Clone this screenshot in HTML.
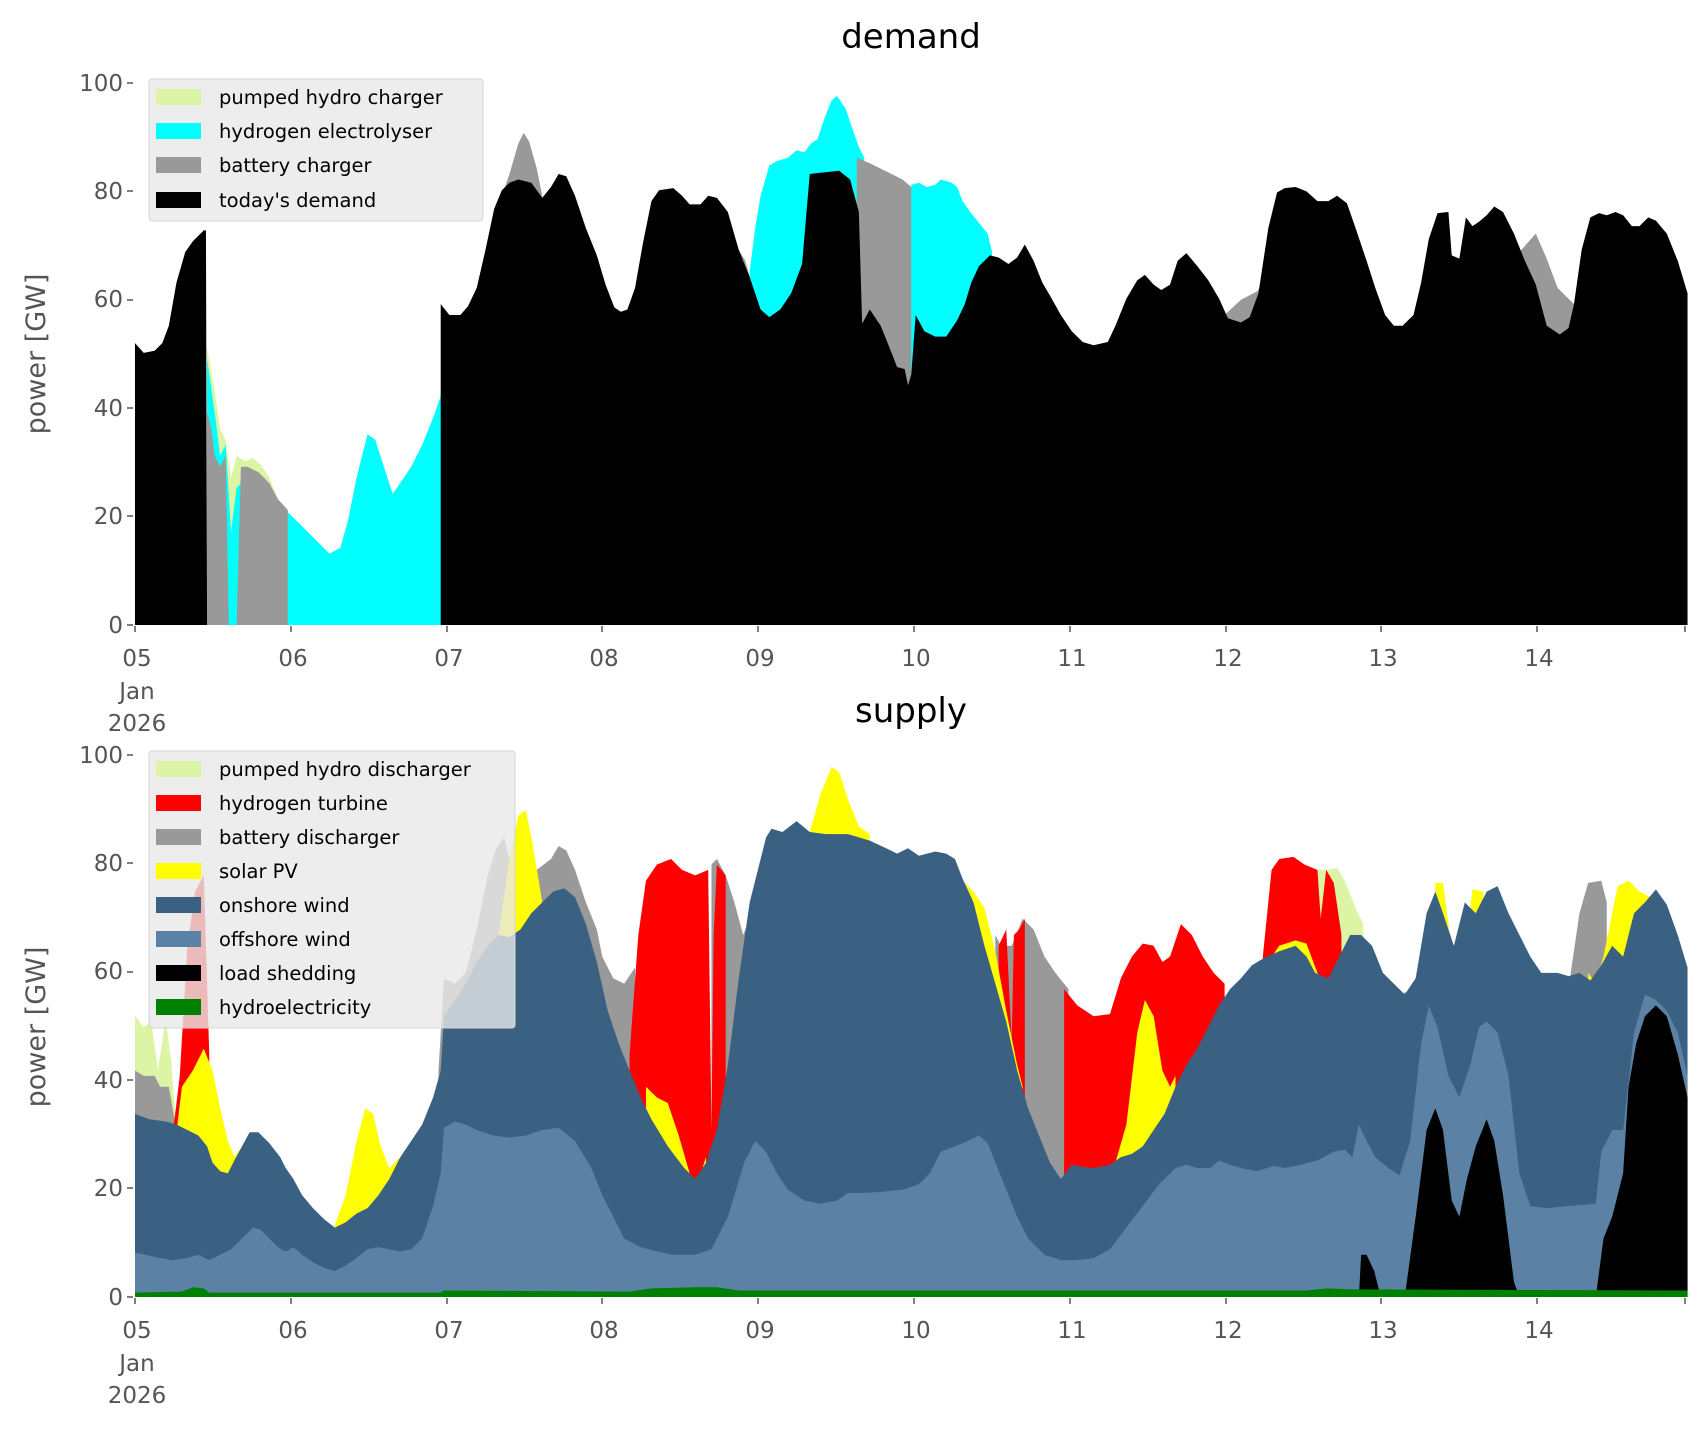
<!DOCTYPE html>
<html><head><meta charset="utf-8"><style>
html,body{margin:0;padding:0;background:#fff}
svg{display:block}
text{font-family:"DejaVu Sans","Liberation Sans",sans-serif}
</style></head><body>
<svg width="1706" height="1431" viewBox="0 0 1706 1431" xmlns="http://www.w3.org/2000/svg">
<rect width="1706" height="1431" fill="#fff"/>
<!-- TOP -->
<g transform="matrix(1.0918 0 0 1.084 -3.66 0.6)">
<polygon fill="#dcf5a5" points="193,320 200,360 205,395 210,405 215,440 220,420 228,425 235,422 242,428 250,440 256,455 256,576 193,576"/>
<polygon fill="#00ffff" points="193,330 200,380 205,420 210,410 215,490 220,450 228,440 240,440 255,460 265,470 275,480 285,490 295,500 305,510 315,505 322,480 330,440 340,400 347,405 355,430 363,455 370,445 380,430 390,410 400,385 407,365 410,290 410,576 193,576"/>
<polygon fill="#999" points="193,380 197,395 200,420 205,430 210,420 213,576 220,576 224,430 230,430 240,435 250,445 258,460 267,470 267,576 193,576"/>
<polygon fill="#999" points="463,180 470,160 478,132 483,122 488,130 495,155 500,180 500,576 463,576"/>
<polygon fill="#00ffff" points="690,250 695,210 700,180 708,152 715,148 725,145 733,138 740,140 746,132 752,128 758,110 765,92 770,88 778,100 784,118 790,135 795,145 795,576 690,576"/>
<polygon fill="#999" points="680,230 686,240 692,262 692,576 680,576"/>
<polygon fill="#999" points="788,145 800,150 810,155 820,160 830,165 838,172 840,178 840,576 788,576"/>
<polygon fill="#00ffff" points="838,170 845,168 852,172 860,170 865,165 875,168 880,172 885,185 892,195 900,205 908,215 912,232 912,576 838,576"/>
<polygon fill="#999" points="1125,290 1140,276 1155,268 1160,260 1160,576 1125,576"/>
<polygon fill="#999" points="1390,215 1395,232 1410,215 1420,238 1430,265 1440,275 1445,280 1445,576 1390,576"/>
<polygon fill="#000" points="127,316 135,325 145,323 152,316 158,300 165,260 173,232 180,222 190,212 192,212 193,576 407,576 407,280 415,290 425,290 432,282 440,265 448,230 456,192 463,175 470,168 478,165 490,168 500,182 508,172 515,160 522,162 530,180 540,210 550,235 558,262 566,283 572,287 578,285 585,265 592,225 600,185 607,175 620,173 628,180 635,188 645,188 652,180 660,182 670,195 680,230 690,255 700,285 708,292 718,285 728,270 738,243 745,160 762,158 772,157 782,165 790,195 793,298 800,285 810,300 818,320 825,338 832,340 835,355 838,345 842,290 850,305 860,310 870,310 880,295 887,280 893,260 900,245 910,235 918,237 927,243 935,237 942,225 950,240 958,260 965,272 975,290 985,305 995,315 1005,318 1018,315 1025,300 1035,275 1045,258 1052,253 1060,262 1067,267 1075,262 1082,240 1090,233 1100,245 1110,258 1120,275 1128,293 1140,297 1148,292 1156,270 1165,210 1173,177 1180,173 1190,172 1200,176 1210,185 1220,185 1228,180 1237,187 1245,210 1255,240 1263,265 1272,290 1280,300 1288,300 1298,290 1305,260 1312,220 1320,196 1330,195 1333,235 1340,238 1346,200 1352,208 1358,204 1365,198 1372,190 1380,195 1390,215 1400,240 1410,262 1420,300 1432,308 1440,302 1445,280 1452,230 1460,200 1468,196 1475,198 1483,195 1490,198 1498,208 1505,208 1513,200 1520,203 1530,215 1540,240 1549,270 1549,576 127,576"/>
</g>
<!-- BOTTOM -->
<g transform="matrix(1.0918 0 0 1.084 -3.66 2.7)">
<polygon fill="#dcf5a5" points="127,935 135,945 142,940 148,985 155,938 160,975 165,1040 165,1194 127,1194"/>
<polygon fill="#999" points="127,985 135,990 145,990 150,1000 158,1000 165,1040 165,1194 127,1194"/>
<polygon fill="#f00" points="162,1040 168,990 175,870 182,820 190,805 195,970 195,1194 162,1194"/>
<polygon fill="#999" points="405,985 410,900 420,905 430,895 440,855 450,805 458,780 465,770 470,790 470,1194 405,1194"/>
<polygon fill="#999" points="495,800 508,790 515,778 522,782 530,800 540,830 550,855 555,880 565,900 575,905 585,890 585,1194 495,1194"/>
<polygon fill="#999" points="655,795 660,790 668,805 676,830 684,860 692,840 700,840 700,1194 655,1194"/>
<polygon fill="#f00" points="580,970 588,860 595,810 605,795 618,790 628,800 640,805 652,800 655,1040 657,860 660,795 668,805 668,1194 580,1194"/>
<polygon fill="#999" points="915,860 920,870 930,870 940,845 950,855 960,880 970,895 978,905 982,910 982,1194 915,1194"/>
<polygon fill="#f00" points="918,870 925,855 930,960 932,860 937,855 942,845 942,1194 918,1194"/>
<polygon fill="#f00" points="978,910 990,925 1005,935 1020,933 1030,900 1040,880 1050,868 1060,870 1068,885 1075,880 1085,850 1095,860 1105,880 1115,895 1125,905 1125,1194 978,1194"/>
<polygon fill="#dcf5a5" points="1210,800 1220,800 1228,798 1235,810 1245,835 1252,850 1252,1194 1210,1194"/>
<polygon fill="#999" points="1235,880 1245,880 1250,885 1250,1194 1235,1194"/>
<polygon fill="#f00" points="1160,880 1168,800 1175,790 1188,788 1198,795 1210,800 1213,845 1218,800 1225,812 1232,860 1232,1194 1160,1194"/>
<polygon fill="#999" points="1282,915 1295,912 1295,1194 1282,1194"/>
<polygon fill="#999" points="1442,895 1450,840 1458,812 1470,810 1475,830 1475,1194 1442,1194"/>
<g fill="#ff0">
<polygon points="165,1042 170,1000 180,985 190,965 198,985 205,1020 212,1050 218,1065 225,1055 225,1194 165,1194"/>
<polygon points="310,1128 320,1100 330,1050 338,1020 345,1025 352,1055 360,1075 370,1065 370,1194 310,1194"/>
<polygon points="460,860 470,790 478,750 485,745 490,770 496,805 500,830 500,1194 460,1194"/>
<polygon points="595,1000 605,1010 615,1015 625,1045 635,1080 642,1090 650,1065 650,1194 595,1194"/>
<polygon points="745,765 755,730 765,705 772,710 780,735 790,760 800,767 800,1194 745,1194"/>
<polygon points="885,810 895,820 905,835 915,875 925,930 935,980 940,1000 940,1194 885,1194"/>
<polygon points="1025,1070 1035,1035 1045,950 1052,920 1060,935 1068,985 1075,1000 1080,990 1080,1194 1025,1194"/>
<polygon points="1165,885 1175,870 1190,865 1200,868 1210,895 1220,912 1230,880 1230,1194 1165,1194"/>
<polygon points="1318,812 1325,812 1330,850 1335,900 1340,930 1345,880 1352,818 1362,820 1362,1194 1318,1194"/>
<polygon points="1458,895 1465,905 1472,880 1478,850 1485,815 1495,810 1505,820 1515,825 1515,1194 1458,1194"/>
</g>
<polygon fill="#3b6182" points="127,1025 140,1030 155,1032 165,1035 175,1040 185,1045 193,1055 198,1070 205,1078 212,1080 218,1068 225,1055 232,1042 240,1042 250,1052 260,1065 265,1075 272,1085 280,1100 290,1112 300,1122 310,1130 320,1125 330,1117 340,1112 350,1100 360,1085 370,1065 380,1050 390,1035 400,1010 407,985 410,935 420,920 430,905 440,885 450,870 460,860 470,862 480,855 490,840 500,830 510,820 520,817 530,825 540,850 550,885 560,930 570,960 580,985 590,1010 600,1030 615,1055 630,1075 640,1085 650,1070 660,1040 670,980 680,900 690,830 700,790 705,770 710,762 720,765 733,755 745,765 760,767 780,767 800,773 815,780 825,785 835,780 845,787 860,783 870,785 878,790 885,808 895,830 905,870 915,905 925,940 935,985 945,1020 955,1045 965,1070 975,1085 985,1072 995,1074 1005,1075 1020,1072 1030,1065 1040,1062 1050,1055 1060,1040 1070,1025 1080,1000 1090,980 1100,965 1110,945 1120,925 1130,910 1140,900 1150,888 1160,882 1175,875 1190,870 1200,880 1208,895 1220,900 1230,880 1240,860 1250,860 1260,870 1270,895 1280,905 1290,915 1300,900 1310,840 1318,820 1325,840 1335,870 1345,830 1355,840 1365,820 1375,815 1385,840 1395,860 1405,880 1415,895 1430,895 1440,898 1450,895 1460,902 1470,888 1480,870 1490,880 1500,840 1510,830 1520,818 1530,832 1540,860 1549,890 1549,1194 127,1194"/>
<polygon fill="#5b82a4" points="127,1153 145,1157 160,1160 175,1158 185,1155 195,1160 205,1155 215,1150 225,1140 235,1130 242,1132 250,1140 258,1148 265,1152 272,1148 280,1155 290,1162 300,1167 310,1170 320,1165 330,1158 340,1150 350,1148 360,1150 370,1152 380,1150 390,1140 400,1110 407,1080 410,1038 420,1032 430,1035 440,1040 455,1045 470,1047 485,1045 500,1040 515,1038 530,1050 545,1075 555,1100 565,1120 575,1140 590,1148 605,1152 620,1155 640,1155 655,1150 670,1120 685,1070 695,1050 705,1060 715,1080 725,1095 740,1105 755,1108 770,1105 780,1098 795,1098 810,1097 830,1095 845,1090 855,1080 865,1060 878,1055 890,1050 900,1045 908,1052 915,1070 925,1095 935,1120 945,1140 960,1155 975,1160 990,1160 1005,1158 1020,1150 1035,1130 1050,1110 1065,1090 1080,1075 1090,1072 1100,1075 1112,1075 1120,1068 1130,1072 1140,1075 1155,1078 1170,1073 1180,1075 1195,1072 1210,1068 1225,1060 1235,1058 1242,1065 1248,1035 1255,1050 1263,1065 1275,1075 1285,1082 1295,1050 1305,960 1312,925 1320,945 1330,990 1340,1010 1350,980 1358,945 1365,940 1375,950 1385,990 1395,1080 1405,1110 1420,1112 1440,1110 1465,1108 1470,1060 1480,1040 1490,1040 1500,950 1510,915 1520,920 1530,930 1540,950 1549,990 1549,1194 127,1194"/>
<g fill="#000">
<polygon points="1248,1194 1250,1155 1255,1155 1262,1170 1268,1194"/>
<polygon points="1290,1194 1300,1120 1310,1040 1318,1020 1325,1040 1333,1105 1340,1120 1347,1085 1355,1055 1365,1030 1372,1050 1380,1100 1390,1180 1395,1194"/>
<polygon points="1465,1194 1472,1140 1480,1120 1490,1080 1495,1000 1502,960 1510,935 1520,925 1530,935 1540,970 1549,1010 1549,1194"/>
</g>
<polygon fill="#008000" points="127,1190 170,1189 180,1185 190,1186 195,1190 407,1190 410,1188 580,1189 600,1186 640,1185 660,1185 680,1188 1200,1188 1220,1186 1240,1187 1549,1188 1549,1194 127,1194"/>
</g>
<!-- axes ticks -->
<g fill="#555" font-size="23">
<g text-anchor="end">
<text x="123" y="91">100</text><text x="123" y="199">80</text><text x="123" y="307">60</text><text x="123" y="416">40</text><text x="123" y="524">20</text><text x="123" y="633">0</text>
<text x="123" y="763">100</text><text x="123" y="871">80</text><text x="123" y="979">60</text><text x="123" y="1088">40</text><text x="123" y="1196">20</text><text x="123" y="1305">0</text>
</g>
<g stroke="#555" stroke-width="1.5">
<path d="M127 83h6M127 191h6M127 300h6M127 408h6M127 516h6M127 625h6M127 755h6M127 863h6M127 972h6M127 1080h6M127 1188h6M127 1297h6"/>
<path d="M135 626v6M291 626v6M447 626v6M602 626v6M758 626v6M914 626v6M1070 626v6M1226 626v6M1381 626v6M1537 626v6M1685 626v6"/>
<path d="M135 1298v6M291 1298v6M447 1298v6M602 1298v6M758 1298v6M914 1298v6M1070 1298v6M1226 1298v6M1381 1298v6M1537 1298v6M1685 1298v6"/>
</g>
<g text-anchor="middle">
<text x="137" y="666">05</text><text x="137" y="699">Jan</text><text x="137" y="731">2026</text>
<text x="293" y="666">06</text><text x="449" y="666">07</text><text x="604" y="666">08</text><text x="760" y="666">09</text><text x="916" y="666">10</text><text x="1072" y="666">11</text><text x="1228" y="666">12</text><text x="1383" y="666">13</text><text x="1539" y="666">14</text>
<text x="137" y="1338">05</text><text x="137" y="1371">Jan</text><text x="137" y="1403">2026</text>
<text x="293" y="1338">06</text><text x="449" y="1338">07</text><text x="604" y="1338">08</text><text x="760" y="1338">09</text><text x="916" y="1338">10</text><text x="1072" y="1338">11</text><text x="1228" y="1338">12</text><text x="1383" y="1338">13</text><text x="1539" y="1338">14</text>
</g>
<text font-size="27" text-anchor="middle" transform="translate(45,354) rotate(-90)">power [GW]</text>
<text font-size="27" text-anchor="middle" transform="translate(45,1027) rotate(-90)">power [GW]</text>
</g>
<text x="911" y="48" font-size="34" text-anchor="middle" fill="#000">demand</text>
<text x="911" y="722" font-size="34" text-anchor="middle" fill="#000">supply</text>
<!-- legends -->
<g font-size="19.5" fill="#000">
<rect x="149" y="79" width="334" height="142" rx="3" fill="rgba(232,232,232,0.8)" stroke="#d5d5d5"/>
<rect x="156" y="89" width="45" height="16" fill="#dcf5a5"/><text x="219" y="104">pumped hydro charger</text>
<rect x="156" y="123" width="45" height="16" fill="#00ffff"/><text x="219" y="138">hydrogen electrolyser</text>
<rect x="156" y="157" width="45" height="16" fill="#999"/><text x="219" y="172">battery charger</text>
<rect x="156" y="192" width="45" height="16" fill="#000"/><text x="219" y="207">today's demand</text>

<rect x="149" y="751" width="366" height="277" rx="3" fill="rgba(232,232,232,0.8)" stroke="#d5d5d5"/>
<rect x="156" y="761" width="45" height="16" fill="#dcf5a5"/><text x="219" y="776">pumped hydro discharger</text>
<rect x="156" y="795" width="45" height="16" fill="#f00"/><text x="219" y="810">hydrogen turbine</text>
<rect x="156" y="829" width="45" height="16" fill="#999"/><text x="219" y="844">battery discharger</text>
<rect x="156" y="863" width="45" height="16" fill="#ff0"/><text x="219" y="878">solar PV</text>
<rect x="156" y="897" width="45" height="16" fill="#3b6182"/><text x="219" y="912">onshore wind</text>
<rect x="156" y="931" width="45" height="16" fill="#5b82a4"/><text x="219" y="946">offshore wind</text>
<rect x="156" y="965" width="45" height="16" fill="#000"/><text x="219" y="980">load shedding</text>
<rect x="156" y="999" width="45" height="16" fill="#008000"/><text x="219" y="1014">hydroelectricity</text>
</g>
</svg>
</body></html>
